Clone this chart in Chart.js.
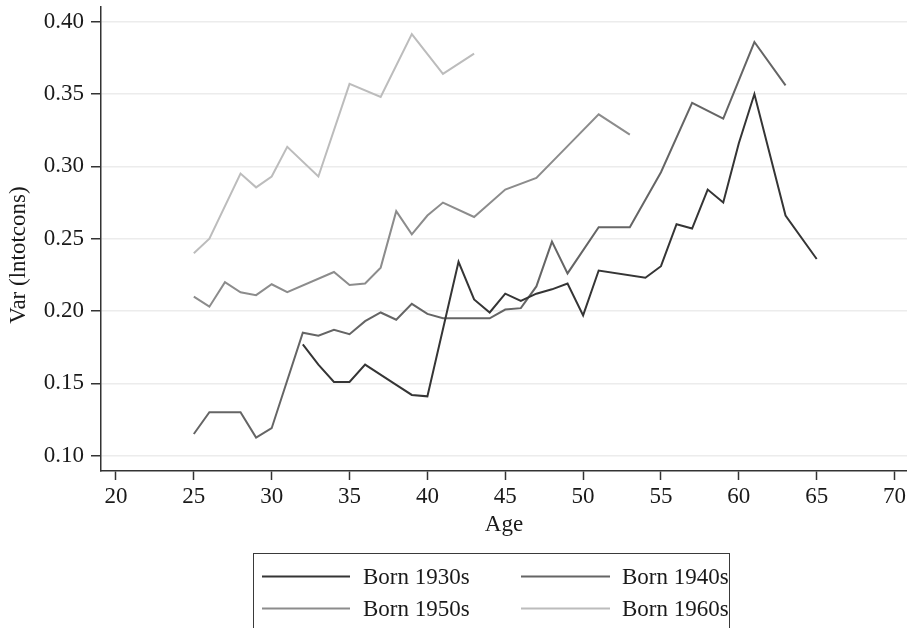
<!DOCTYPE html>
<html>
<head>
<meta charset="utf-8">
<script src="https://cdn.jsdelivr.net/npm/chart.js@4/dist/chart.umd.min.js"></script>
<style>
  html, body { margin: 0; padding: 0; background: #ffffff; }
  #wrap { width: 907px; height: 628px; position: relative; }
</style>
</head>
<body>
<div id="wrap"><canvas id="chart" width="907" height="628"></canvas></div>
<script>
// Variance of log total consumption by age, per birth cohort
const cohortLabels = ['Born 1930s', 'Born 1940s', 'Born 1950s', 'Born 1960s'];

const ages1930 = [32, 33, 34, 35, 36, 38, 39, 40, 42, 43, 44, 45, 46, 47, 48, 49, 50, 51, 54, 55, 56, 57, 58, 59, 60, 61, 63, 65];
const var1930  = [0.177, 0.163, 0.151, 0.151, 0.163, 0.149, 0.142, 0.141, 0.234, 0.208, 0.199, 0.212, 0.207, 0.212, 0.215, 0.219, 0.197, 0.228, 0.223, 0.231, 0.260, 0.257, 0.284, 0.275, 0.316, 0.350, 0.266, 0.236];

const ages1940 = [25, 26, 28, 29, 30, 32, 33, 34, 35, 36, 37, 38, 39, 40, 41, 44, 45, 46, 47, 48, 49, 51, 53, 55, 57, 59, 61, 63];
const var1940  = [0.115, 0.130, 0.130, 0.1125, 0.119, 0.185, 0.183, 0.187, 0.184, 0.193, 0.199, 0.194, 0.205, 0.198, 0.195, 0.195, 0.201, 0.202, 0.217, 0.248, 0.226, 0.258, 0.258, 0.296, 0.344, 0.333, 0.386, 0.356];

const ages1950 = [25, 26, 27, 28, 29, 30, 31, 34, 35, 36, 37, 38, 39, 40, 41, 43, 45, 47, 49, 51, 53];
const var1950  = [0.210, 0.203, 0.220, 0.213, 0.211, 0.2185, 0.213, 0.227, 0.218, 0.219, 0.230, 0.269, 0.253, 0.266, 0.275, 0.265, 0.284, 0.292, 0.314, 0.336, 0.322];

const ages1960 = [25, 26, 28, 29, 30, 31, 33, 35, 37, 39, 41, 43];
const var1960  = [0.240, 0.250, 0.295, 0.2855, 0.293, 0.3135, 0.293, 0.357, 0.348, 0.3915, 0.364, 0.378];

const xTickValues = [20, 25, 30, 35, 40, 45, 50, 55, 60, 65, 70];
const yTickLabels = ['0.10', '0.15', '0.20', '0.25', '0.30', '0.35', '0.40'];

const xTitle = 'Age';
const yTitle = 'Var (lntotcons)';

const lineColors = ['#353535', '#656565', '#8c8c8c', '#bcbcbc'];
const serif = '"Liberation Serif", "DejaVu Serif", serif';
const textColor = '#1a1a1a';

function pairs(xs, ys) {
  return xs.map((x, i) => ({ x: x, y: ys[i] }));
}

const seriesAges = [ages1930, ages1940, ages1950, ages1960];
const seriesVals = [var1930, var1940, var1950, var1960];

const datasets = cohortLabels.map((label, i) => ({
  label: label,
  data: pairs(seriesAges[i], seriesVals[i]),
  borderColor: lineColors[i],
  backgroundColor: lineColors[i],
  borderWidth: 2,
  pointRadius: 0,
  pointHoverRadius: 0,
  tension: 0,
  fill: false
}));

// Rotated y-axis title, placed a little below the plot's mid-height
const yTitlePlugin = {
  id: 'yTitlePlugin',
  afterDraw(chart) {
    const ctx = chart.ctx;
    ctx.save();
    ctx.translate(19, 255);
    ctx.rotate(-Math.PI / 2);
    ctx.font = '23px ' + serif;
    ctx.fillStyle = textColor;
    ctx.textAlign = 'center';
    ctx.textBaseline = 'middle';
    ctx.fillText(yTitle, 0, 0);
    ctx.restore();
  }
};

// Boxed two-column legend below the x axis
const boxLegendPlugin = {
  id: 'boxLegendPlugin',
  afterDraw(chart) {
    const ctx = chart.ctx;
    ctx.save();
    ctx.strokeStyle = '#3a3a3a';
    ctx.lineWidth = 1;
    ctx.strokeRect(253.5, 553.5, 476, 100);
    const colLine = [[262, 350], [521, 610]];
    const colText = [363, 622];
    const rowY = [576.5, 608.5];
    ctx.font = '23px ' + serif;
    ctx.textBaseline = 'middle';
    ctx.textAlign = 'left';
    chart.data.datasets.forEach((ds, i) => {
      const c = i % 2;
      const r = Math.floor(i / 2);
      ctx.strokeStyle = ds.borderColor;
      ctx.lineWidth = 2;
      ctx.beginPath();
      ctx.moveTo(colLine[c][0], rowY[r]);
      ctx.lineTo(colLine[c][1], rowY[r]);
      ctx.stroke();
      ctx.fillStyle = textColor;
      ctx.fillText(ds.label, colText[c], rowY[r] + 1);
    });
    ctx.restore();
  }
};

new Chart(document.getElementById('chart'), {
  type: 'line',
  data: { datasets: datasets },
  plugins: [yTitlePlugin, boxLegendPlugin],
  options: {
    responsive: false,
    animation: false,
    events: [],
    layout: { padding: { top: 7, right: 0, bottom: 89, left: 0 } },
    plugins: {
      legend: { display: false },
      tooltip: { enabled: false },
      title: { display: false }
    },
    scales: {
      x: {
        type: 'linear',
        min: 19.04,
        max: 70.8,
        afterBuildTicks(scale) {
          scale.ticks = xTickValues.map(v => ({ value: v }));
        },
        afterFit(scale) {
          scale.height = 68;
          scale.paddingLeft = 0;
          scale.paddingRight = 0;
        },
        grid: {
          drawOnChartArea: false,
          drawTicks: true,
          tickLength: 9,
          tickColor: '#333333',
          tickWidth: 1.5
        },
        border: { display: true, color: '#333333', width: 1.5 },
        ticks: {
          autoSkip: false,
          maxRotation: 0,
          padding: 3,
          color: textColor,
          font: { family: serif, size: 23 },
          callback: (v) => String(v)
        },
        title: {
          display: true,
          text: xTitle,
          color: textColor,
          font: { family: serif, size: 23 },
          padding: { top: 0, bottom: 0 }
        }
      },
      y: {
        type: 'linear',
        min: 0.0894,
        max: 0.4102,
        afterBuildTicks(scale) {
          scale.ticks = yTickLabels.map(t => ({ value: parseFloat(t) }));
        },
        afterFit(scale) {
          scale.width = 101;
          scale.paddingTop = 0;
          scale.paddingBottom = 0;
        },
        grid: {
          drawOnChartArea: true,
          color: '#ececec',
          lineWidth: 1.5,
          drawTicks: true,
          tickLength: 10,
          tickColor: '#333333',
          tickWidth: 1.5
        },
        border: { display: true, color: '#333333', width: 1.5 },
        ticks: {
          autoSkip: false,
          padding: 7,
          color: textColor,
          font: { family: serif, size: 23 },
          callback: (v) => {
            const idx = yTickLabels.findIndex(t => Math.abs(parseFloat(t) - v) < 1e-9);
            return idx >= 0 ? yTickLabels[idx] : '';
          }
        }
      }
    }
  }
});
</script>
</body>
</html>
